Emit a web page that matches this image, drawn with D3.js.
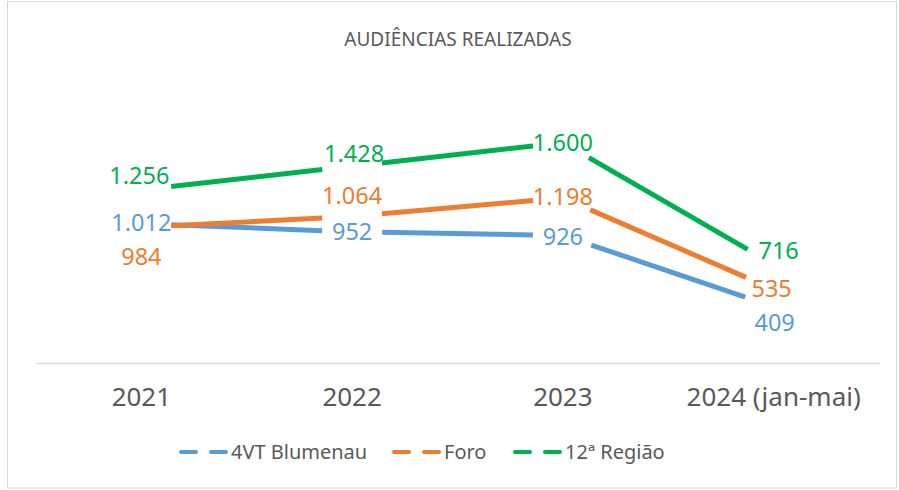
<!DOCTYPE html>
<html>
<head>
<meta charset="utf-8">
<script src="https://cdn.jsdelivr.net/npm/d3@7"></script>
<style>
  body { margin: 0; background: #fff; }
  text { font-family: "Noto Sans", "Open Sans", sans-serif; }
</style>
</head>
<body>
<div id="chart"></div>
<script>
var width = 899;
var height = 490;

// data
var categories = ["2021", "2022", "2023", "2024 (jan-mai)"];
var seriesNames = ["4VT Blumenau", "Foro", "12ª Região"];
var blumenau = [1012, 952, 926, 409];
var foro = [984, 1064, 1198, 535];
var regiao = [1256, 1428, 1600, 716];

var colors = ["#5B9BD5", "#ED7D31", "#00B050"];

// where Excel left each data label, relative to its point
var labelOffsets = [
    [[0, -1], [0, 0], [0, 1], [1, 16]],
    [[0, 29], [0, -21], [0, -1], [-2, -1]],
    [[-2, -14], [2, -13], [0, 0], [5, -14]]
];

var series = [blumenau, foro, regiao].map(function(vals, i) {
    return { name: seriesNames[i], values: vals, color: colors[i], offsets: labelOffsets[i] };
});

var svg = d3.select("#chart")
    .append("svg")
    .attr("width", width)
    .attr("height", height);

// outer frame
svg.append("rect")
    .attr("x", 7.5)
    .attr("y", 1.5)
    .attr("width", 889)
    .attr("height", 486.5)
    .style("fill", "#fff")
    .style("stroke", "#D9D9D9")
    .style("stroke-width", 1);

svg.append("text")
    .attr("x", 458)
    .attr("y", 46)
    .attr("text-anchor", "middle")
    .style("font-size", "19px")
    .style("fill", "#595959")
    .text("AUDIÊNCIAS REALIZADAS");

var x = d3.scaleBand()
    .domain(categories)
    .range([36, 879])
    .padding(0);

var y = d3.scaleLinear()
    .domain([0, 1800])
    .range([363, 115]);

var cx = function(c) { return x(c) + x.bandwidth() / 2; };

// category axis
var xAxis = svg.append("g")
    .attr("transform", "translate(0,363)")
    .call(d3.axisBottom(x).tickSize(0).tickPadding(0));
xAxis.select(".domain").attr("stroke", "#D9D9D9").attr("stroke-width", 1.5);
xAxis.selectAll(".tick text")
    .attr("y", 43)
    .attr("dy", 0)
    .style("font-size", "26px")
    .style("font-family", "'Noto Sans', sans-serif")
    .style("fill", "#595959");

// lines, with the gap Excel leaves around every point
var gap = 30;
var line = d3.line().x(function(d) { return d[0]; }).y(function(d) { return d[1]; });

series.forEach(function(s) {
    var pts = s.values.map(function(v, i) { return [cx(categories[i]), y(v)]; });
    for (var i = 0; i < pts.length - 1; i++) {
        var a = pts[i], b = pts[i + 1];
        var dx = b[0] - a[0], dy = b[1] - a[1];
        var len = Math.sqrt(dx * dx + dy * dy);
        var t = gap / len;
        svg.append("path")
            .datum([[a[0] + dx * t, a[1] + dy * t], [b[0] - dx * t, b[1] - dy * t]])
            .attr("d", line)
            .style("fill", "none")
            .style("stroke", s.color)
            .style("stroke-width", 5);
    }
});

// data labels
var fmt = function(v) { return d3.format(",")(v).replace(/,/g, "."); };
series.forEach(function(s) {
    svg.append("g").selectAll("text")
        .data(s.values)
        .enter()
        .append("text")
        .attr("x", function(d, i) { return cx(categories[i]) + s.offsets[i][0]; })
        .attr("y", function(d, i) { return y(d) + s.offsets[i][1]; })
        .attr("dy", "0.36em")
        .attr("text-anchor", "middle")
        .style("font-size", "23.5px")
        .style("fill", s.color)
        .text(fmt);
});

// legend
var legendX = [181, 394, 515];
var legend = svg.append("g");
series.forEach(function(s, i) {
    var g = legend.append("g").attr("transform", "translate(" + legendX[i] + ",452)");
    g.append("line")
        .attr("x1", 0)
        .attr("x2", 47)
        .style("stroke", s.color)
        .style("stroke-width", 4)
        .style("stroke-linecap", "round")
        .style("stroke-dasharray", "15,15");
    g.append("text")
        .attr("x", 50)
        .attr("y", 7)
        .style("font-size", "20px")
        .style("fill", "#595959")
        .text(s.name);
});
</script>
</body>
</html>
